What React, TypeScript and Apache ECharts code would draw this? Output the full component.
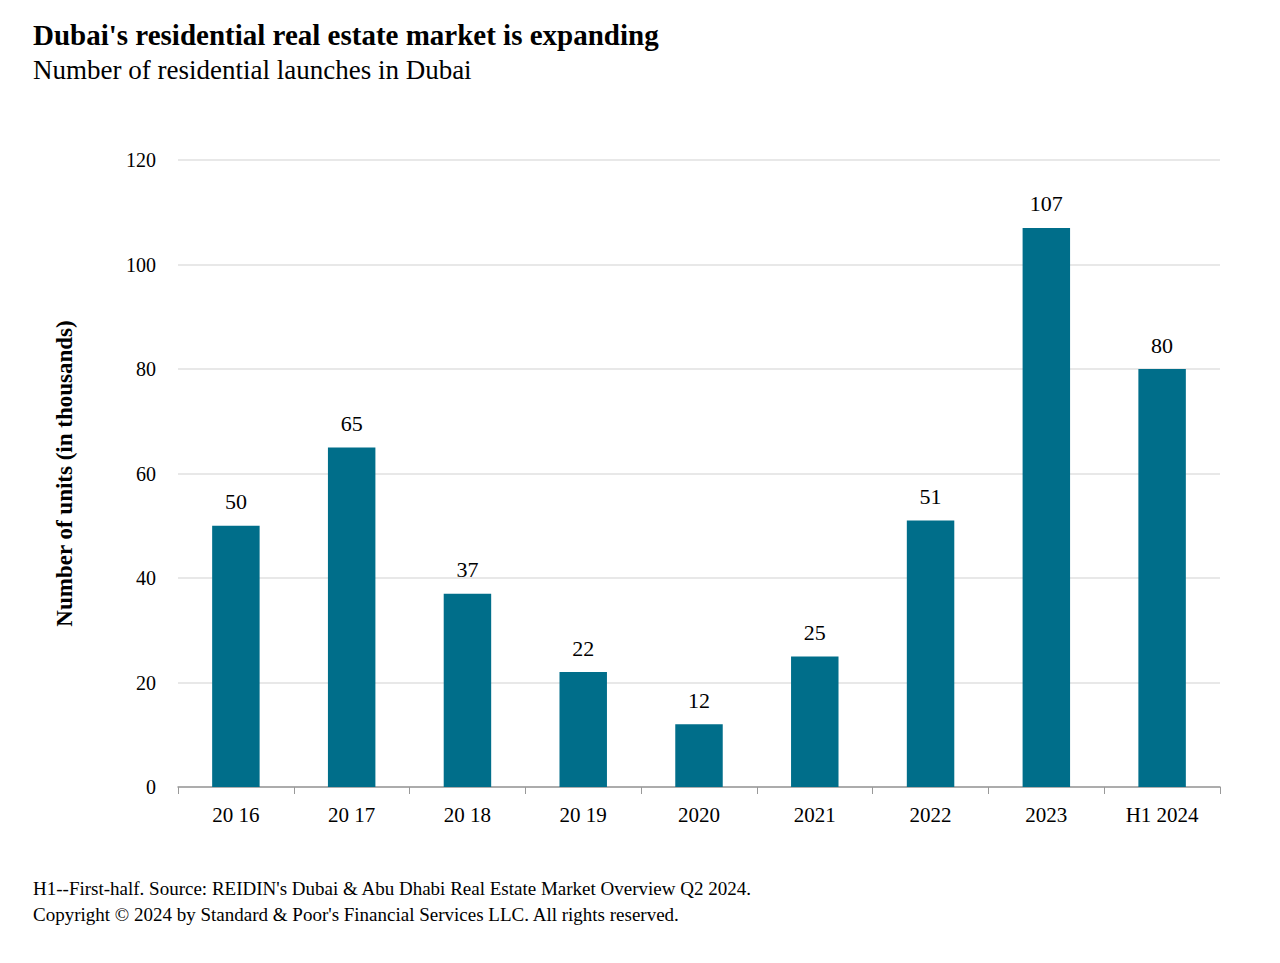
import React, { useEffect, useRef } from "react";
import * as echarts from "echarts";

const categories = ["2016", "2017", "2018", "2019", "2020", "2021", "2022", "2023", "H1 2024"];
const categoryLabels = ["20 16", "20 17", "20 18", "20 19", "2020", "2021", "2022", "2023", "H1 2024"];
const launches = [50, 65, 37, 22, 12, 25, 51, 107, 80];
const yTicks = [0, 20, 40, 60, 80, 100, 120];

const FONT = "'Liberation Serif', 'Times New Roman', serif";

export default function App() {
  const ref = useRef<HTMLDivElement>(null);
  useEffect(() => {
    if (!ref.current) return;
    const chart = echarts.init(ref.current, undefined, { renderer: "svg" });
    chart.setOption({
      animation: false,
      backgroundColor: "#ffffff",
      textStyle: { fontFamily: FONT },
      title: [
        {
          text: "Dubai's residential real estate market is expanding",
          left: 28,
          top: 15,
          textStyle: { fontFamily: FONT, fontSize: 29, fontWeight: "bold", color: "#000" },
        },
        {
          text: "Number of residential launches in Dubai",
          left: 28,
          top: 51,
          textStyle: { fontFamily: FONT, fontSize: 27, fontWeight: "normal", color: "#000" },
        },
      ],
      graphic: [
        {
          type: "text",
          left: 33,
          top: 879,
          style: {
            text: "H1--First-half. Source: REIDIN's Dubai & Abu Dhabi Real Estate Market Overview Q2 2024.",
            font: `19px ${FONT}`,
            fill: "#000",
          },
        },
        {
          type: "text",
          left: 33,
          top: 905,
          style: {
            text: "Copyright © 2024 by Standard & Poor's Financial Services LLC. All rights reserved.",
            font: `19px ${FONT}`,
            fill: "#000",
          },
        },
      ],
      grid: { left: 178, right: 60, top: 160, bottom: 176, containLabel: false },
      xAxis: {
        type: "category",
        data: categories,
        axisLine: { lineStyle: { color: "#999", width: 1.5 } },
        axisTick: { show: true, length: 7, lineStyle: { color: "#999" } },
        axisLabel: {
          fontFamily: FONT,
          fontSize: 21,
          color: "#000",
          margin: 17,
          formatter: (v: string) => categoryLabels[categories.indexOf(v)],
        },
      },
      yAxis: {
        type: "value",
        min: yTicks[0],
        max: yTicks[yTicks.length - 1],
        interval: 20,
        name: "Number of units (in thousands)",
        nameLocation: "middle",
        nameGap: 102,
        nameTextStyle: { fontFamily: FONT, fontSize: 23, fontWeight: "bold", color: "#000" },
        axisLine: { show: false },
        axisTick: { show: false },
        splitLine: { lineStyle: { color: "#e0e0e0", width: 1.5 } },
        axisLabel: { fontFamily: FONT, fontSize: 20, color: "#000", margin: 22 },
      },
      series: [
        {
          type: "bar",
          data: launches,
          barWidth: "41%",
          itemStyle: { color: "#006E8A" },
          label: {
            show: true,
            position: "top",
            distance: 13,
            fontFamily: FONT,
            fontSize: 22,
            color: "#000",
          },
        },
      ],
    });
    return () => chart.dispose();
  }, []);
  return <div ref={ref} style={{ width: 1280, height: 963, margin: -8 }} />;
}
